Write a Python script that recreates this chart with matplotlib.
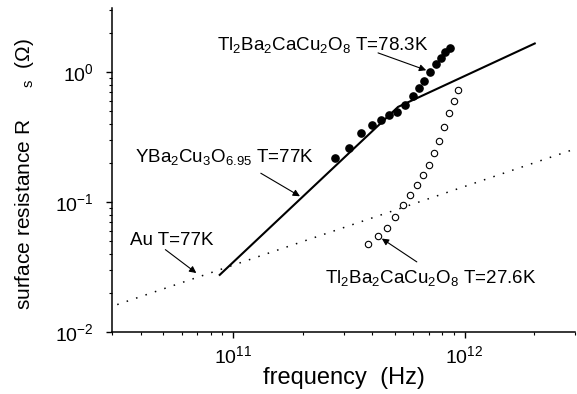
import matplotlib
matplotlib.use("Agg")
import matplotlib.pyplot as plt
import numpy as np

# ---- data ----
# Tl2Ba2CaCu2O8, T = 78.3 K (filled circles)
f_tl78 = [2.76e11, 3.17e11, 3.56e11, 3.97e11, 4.35e11, 4.73e11, 5.13e11, 5.54e11,
          5.96e11, 6.34e11, 6.69e11, 7.10e11, 7.52e11, 7.90e11, 8.25e11, 8.67e11]
r_tl78 = [0.218, 0.262, 0.340, 0.394, 0.430, 0.464, 0.496, 0.561,
          0.656, 0.752, 0.853, 1.004, 1.146, 1.281, 1.410, 1.514]

# Tl2Ba2CaCu2O8, T = 27.6 K (open circles)
f_tl27 = [3.84e11, 4.23e11, 4.61e11, 5.01e11, 5.41e11, 5.82e11, 6.22e11, 6.61e11,
          7.00e11, 7.39e11, 7.79e11, 8.14e11, 8.59e11, 8.98e11, 9.37e11]
r_tl27 = [0.0473, 0.0548, 0.0636, 0.0767, 0.0943, 0.114, 0.136, 0.162,
          0.194, 0.236, 0.296, 0.377, 0.480, 0.595, 0.723]

# YBa2Cu3O6.95, T = 77 K (solid line)
f_ybco = [8.76e10, 5.16e11, 2.01e12]
r_ybco = [0.0275, 0.538, 1.654]

# Au, T = 77 K (dotted line)
f_au = [3.16e10, 2.95e12]
r_au = [0.01625, 0.253]

plt.rcParams['font.family'] = ['Liberation Sans', 'DejaVu Sans']
plt.rcParams['mathtext.default'] = 'regular'

fig = plt.figure(figsize=(5.77, 3.94), dpi=100)
ax = fig.add_axes([112/577, (394-332)/394, 463/577, 324/394])

ax.plot(f_au, r_au, color='black', lw=1.1, linestyle=(0, (1, 5.5)))
ax.plot(f_ybco, r_ybco, color='black', lw=1.5, solid_joinstyle='round')
ax.plot(f_tl78, r_tl78, 'o', color='black', ms=5.2, mec='black')
ax.plot(f_tl27, r_tl27, 'o', mfc='white', mec='black', mew=0.8, ms=4.6)

ax.set_xscale('log')
ax.set_yscale('log')
ax.set_xlim(3e10, 3e12)
ax.set_ylim(1e-2, 3.1)

for s in ['top', 'right']:
    ax.spines[s].set_visible(False)
for s in ['left', 'bottom']:
    ax.spines[s].set_linewidth(1.1)

ax.tick_params(which='major', direction='out', length=4.3, width=1.0, labelsize=14)
ax.tick_params(which='minor', direction='out', length=2.3, width=0.8)
ax.tick_params(axis='y', which='major', pad=9)
ax.tick_params(axis='x', which='major', pad=5)

ax.set_xlabel('frequency  (Hz)', fontsize=17)
ax.xaxis.set_label_coords(0.5, -0.142)
ax.xaxis.label.set_va('center')
ax.set_ylabel(r'surface resistance R$\quad\;\;_{s}$  ($\Omega$)', fontsize=15)
ax.yaxis.set_label_coords(-0.190, 0.488)
ax.yaxis.label.set_va('center')

txt_kw = dict(transform=ax.transAxes, fontsize=13.5, ha='left', va='baseline')
ax.text(0.2268, 0.870, r'Tl$_2$Ba$_2$CaCu$_2$O$_8$ T=78.3K', **txt_kw)
ax.text(0.0497, 0.5247, r'YBa$_2$Cu$_3$O$_{6.95}$ T=77K', **txt_kw)
ax.text(0.0389, 0.2685, 'Au T=77K', **txt_kw)
ax.text(0.46, 0.151, r'Tl$_2$Ba$_2$CaCu$_2$O$_8$ T=27.6K', **txt_kw)

ap = dict(arrowstyle='-|>', color='black', lw=0.8, mutation_scale=10,
          shrinkA=0, shrinkB=0)
ax.annotate('', xy=(6.83e11, 1.03), xytext=(4.23e11, 1.40), arrowprops=ap)
ax.annotate('', xy=(1.945e11, 0.1106), xytext=(1.318e11, 0.1663), arrowprops=ap)
ax.annotate('', xy=(6.94e10, 0.0284), xytext=(5.10e10, 0.0430), arrowprops=ap)
ax.annotate('', xy=(4.39e11, 0.0523), xytext=(6.22e11, 0.0346), arrowprops=ap)

fig.savefig('out.png', dpi=100)
